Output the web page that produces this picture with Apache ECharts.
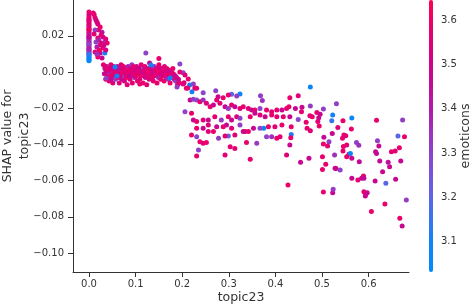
<!DOCTYPE html>
<html><head><meta charset="utf-8">
<script src="https://cdn.jsdelivr.net/npm/echarts@6/dist/echarts.min.js"></script>
<style>html,body{margin:0;padding:0;background:#fff}#c{width:475px;height:307px}</style>
</head><body><div id="c"></div>
<script>
// ---- tick labels & names ----
const xTicks = [0, 0.1, 0.2, 0.3, 0.4, 0.5, 0.6];
const yTicks = [-0.10, -0.08, -0.06, -0.04, -0.02, 0.00, 0.02];
const cTicks = [3.1, 3.2, 3.3, 3.4, 3.5, 3.6];
const xName = 'topic23';
const yName = 'SHAP value for\ntopic23';
const cName = 'emoticons';

// ---- data: [topic23, SHAP value, emoticons] ----
const pointsZeroTopic = [
[0,0.0332,3.58],[0,0.0318,3.55],[0,0.0305,3.52],[0,0.0296,3.6],[0,0.0287,3.48],[0,0.0278,3.57],[0,0.0268,3.55],[0,0.0259,3.5],[0,0.025,3.6],[0,0.0241,3.46],
[0,0.0232,3.56],[0,0.0223,3.43],[0,0.0214,3.54],[0,0.0206,3.4],[0,0.0198,3.58],[0,0.019,3.33],[0,0.0182,3.48],[0,0.0175,3.38],[0,0.0167,3.3],[0,0.016,3.52],
[0,0.0152,3.35],[0,0.0145,3.42],[0,0.0138,3.28],[0,0.013,3.56],[0,0.0123,3.32],[0,0.0116,3.25],[0,0.0109,3.45],[0,0.0102,3.2],[0,0.0095,3.12],[0,0.0088,3.08],
[0,0.0081,3.1],[0,0.0074,3.06],[0,0.0067,3.09],[0,0.0062,3.05],[0,0.0285,3.57],[0,0.0235,3.6],[0,0.0192,3.46],[0,0.0155,3.3],[0,0.0125,3.38],[0,0.0098,3.15]
];
const pointsLowTopic = [
[0.011,0.0318,3.56],[0.013,0.0300,3.58],[0.015,0.0287,3.48],[0.017,0.0276,3.55],[0.019,0.0265,3.52],[0.024,0.0249,3.58],[0.021,0.0232,3.6],[0.028,0.0220,3.42],
[0.013,0.0232,3.32],[0.030,0.0193,3.48],[0.019,0.0188,3.58],[0.034,0.0166,3.3],[0.024,0.0149,3.55],[0.017,0.0138,3.4],[0.030,0.0133,3.58],[0.013,0.0111,3.56],
[0.024,0.0105,3.48],[0.034,0.0105,3.1],[0.019,0.0083,3.58],[0.028,0.0077,3.48],[0.015,0.0166,3.3],[0.032,0.0149,3.48],[0.026,0.0204,3.55],[0.021,0.0177,3.38],
[0.036,0.0182,3.56],[0.039,0.0160,3.58],[0.036,0.0122,3.52],[0.011,0.0210,3.56],[0.009,0.0326,3.58],[0.022,0.0120,3.6],[0.017,0.0100,3.35],[0.026,0.0160,3.55]
];
const pointsPlateau = [
[0.031,0.004,3.56],[0.033,-0.001,3.48],[0.034,0.002,3.38],[0.036,-0.004,3.58],[0.037,0.001,3.52],[0.039,0.003,3.3],[0.040,-0.002,3.56],[0.041,0.000,3.44],[0.043,-0.005,3.58],[0.044,0.002,3.5],
[0.045,-0.001,3.35],[0.047,0.004,3.56],[0.048,-0.003,3.48],[0.049,0.001,3.58],[0.051,-0.006,3.55],[0.052,0.000,3.4],[0.053,0.003,3.56],[0.055,-0.002,3.46],[0.056,0.001,3.58],[0.057,-0.004,3.32],
[0.059,0.002,3.52],[0.060,-0.001,3.56],[0.061,0.003,3.48],[0.062,-0.003,3.58],[0.064,0.000,3.36],[0.065,-0.006,3.56],[0.066,0.002,3.44],[0.068,-0.001,3.58],[0.069,0.004,3.52],[0.070,-0.004,3.48],
[0.072,0.001,3.56],[0.073,-0.002,3.3],[0.074,0.003,3.58],[0.076,-0.005,3.52],[0.077,0.000,3.42],[0.078,0.002,3.56],[0.080,-0.003,3.58],[0.081,0.001,3.48],[0.082,-0.007,3.56],[0.084,0.003,3.38],
[0.085,-0.001,3.58],[0.086,0.000,3.52],[0.088,-0.004,3.56],[0.089,0.002,3.46],[0.090,-0.002,3.58],[0.092,0.004,3.33],[0.093,-0.006,3.56],[0.094,0.001,3.5],[0.096,-0.001,3.58],[0.097,0.002,3.55],
[0.098,-0.003,3.4],[0.099,0.000,3.56],[0.101,-0.002,3.58],[0.102,0.003,3.48],[0.104,-0.005,3.56],[0.105,0.001,3.35],[0.106,-0.001,3.58],[0.108,0.002,3.52],[0.109,-0.004,3.56],[0.110,0.000,3.43],
[0.112,0.004,3.58],[0.113,-0.002,3.48],[0.114,0.001,3.56],[0.116,-0.006,3.58],[0.117,0.002,3.3],[0.118,-0.001,3.55],[0.120,0.003,3.56],[0.121,-0.003,3.46],[0.122,0.000,3.58],[0.124,-0.007,3.56],
[0.125,0.001,3.38],[0.126,-0.002,3.58],[0.128,0.002,3.52],[0.129,-0.004,3.56],[0.130,0.005,3.48],[0.132,0.000,3.58],[0.133,-0.001,3.42],[0.134,0.002,3.56],[0.136,-0.003,3.58],[0.137,0.001,3.48],
[0.138,-0.005,3.56],[0.140,0.003,3.33],[0.141,-0.001,3.58],[0.142,0.000,3.52],[0.144,-0.002,3.56],[0.145,0.002,3.45],[0.146,-0.006,3.58],[0.148,0.001,3.56],[0.149,-0.003,3.36],[0.150,0.004,3.58],
[0.151,-0.001,3.48],[0.153,0.002,3.56],[0.154,-0.004,3.58],[0.155,0.000,3.4],[0.157,0.002,3.52],[0.158,-0.002,3.56],[0.159,0.001,3.3],[0.161,-0.005,3.58],[0.162,0.003,3.56],[0.163,-0.001,3.48],
[0.165,0.000,3.58],[0.166,-0.003,3.44],[0.167,0.002,3.56],[0.169,-0.002,3.58],[0.170,-0.004,3.35],[0.172,0.001,3.56],[0.173,-0.001,3.52],[0.174,-0.006,3.58],[0.176,0.000,3.48],[0.177,-0.002,3.56],
[0.178,-0.003,3.4],[0.180,0.002,3.58],[0.181,-0.001,3.56],[0.183,-0.004,3.48],[0.184,-0.002,3.58],[0.186,-0.005,3.32],[0.188,-0.003,3.56],[0.190,-0.007,3.58],[0.192,-0.004,3.48],[0.194,-0.006,3.56],
[0.035,0.003,3.58],[0.042,0.001,3.56],[0.046,-0.002,3.58],[0.050,0.002,3.52],[0.054,-0.001,3.56],[0.058,0.000,3.58],[0.063,0.001,3.48],[0.067,-0.002,3.56],[0.071,0.000,3.58],[0.075,0.001,3.55],
[0.079,-0.001,3.56],[0.083,0.001,3.58],[0.087,-0.002,3.48],[0.091,0.000,3.56],[0.095,0.003,3.58],[0.100,0.001,3.52],[0.107,0.000,3.56],[0.111,-0.002,3.58],[0.115,0.000,3.48],[0.119,0.001,3.56],
[0.127,0.000,3.58],[0.135,-0.001,3.56],[0.139,0.000,3.48],[0.143,0.001,3.58],[0.147,-0.001,3.56],[0.152,0.000,3.58],[0.156,-0.001,3.52],[0.160,0.001,3.56],[0.164,-0.001,3.58],[0.168,0.000,3.48],
[0.171,-0.001,3.56],[0.175,-0.002,3.58],[0.179,-0.001,3.56],[0.182,-0.003,3.58],[0.185,-0.002,3.48],
[0.122,0.0105,3.3],[0.150,0.0075,3.58],[0.195,0.0044,3.3],[0.056,0.0028,3.08],[0.060,-0.0022,3.1],[0.133,0.0039,3.1],[0.174,-0.0033,3.1],[0.109,-0.0066,3.58],[0.189,-0.0083,3.32],[0.202,-0.0066,3.56],
[0.037,-0.0035,3.32],[0.047,-0.0040,3.48]
];
const pointsMidTopic = [
[0.202,-0.0004,3.3],[0.213,-0.0039,3.58],[0.204,-0.0059,3.56],[0.209,-0.009,3.58],[0.216,-0.0072,3.1],[0.224,-0.0066,3.32],[0.231,-0.009,3.58],[0.245,-0.0114,3.3],[0.221,-0.0109,3.1],[0.272,-0.0103,3.3],
[0.306,-0.0123,3.2],[0.324,-0.0121,3.08],[0.317,-0.0132,3.32],[0.299,-0.0127,3.58],[0.288,-0.0142,3.58],[0.277,-0.0136,3.48],[0.368,-0.0131,3.32],[0.372,-0.0158,3.35],
[0.195,0.000,3.58],[0.206,-0.0017,3.56],[0.212,-0.0088,3.58],[0.227,-0.0088,3.56],
[0.217,-0.0155,3.48],[0.224,-0.0151,3.32],[0.231,-0.0155,3.3],[0.238,-0.0164,3.58],[0.245,-0.0155,3.35],[0.252,-0.0173,3.56],[0.260,-0.0192,3.58],[0.267,-0.0182,3.48],[0.274,-0.0155,3.58],[0.281,-0.0173,3.56],
[0.292,-0.0192,3.48],[0.299,-0.0201,3.32],[0.306,-0.0182,3.58],[0.313,-0.0192,3.48],[0.324,-0.0201,3.56],[0.331,-0.0192,3.58],[0.342,-0.0201,3.56],[0.349,-0.021,3.48],[0.356,-0.021,3.58],[0.367,-0.0201,3.3],
[0.381,-0.021,3.58],[0.392,-0.0219,3.56],[0.403,-0.021,3.58],[0.414,-0.021,3.48],[0.424,-0.0201,3.58],
[0.375,-0.0311,3.08],[0.299,-0.0353,3.2],
[0.206,-0.0219,3.3],[0.220,-0.0228,3.58],[0.224,-0.0265,3.48],[0.231,-0.0274,3.58],[0.245,-0.0265,3.56],[0.256,-0.0265,3.48],[0.270,-0.0247,3.58],[0.284,-0.0265,3.32],[0.299,-0.0247,3.58],[0.306,-0.0265,3.48],
[0.317,-0.0247,3.56],[0.324,-0.0256,3.3],[0.346,-0.0247,3.58],[0.356,-0.0228,3.48],[0.367,-0.0237,3.56],[0.378,-0.0247,3.48],[0.392,-0.0237,3.58],[0.403,-0.0247,3.56],[0.417,-0.0247,3.58],
[0.231,-0.0311,3.58],[0.245,-0.0311,3.48],[0.256,-0.0293,3.56],[0.274,-0.0302,3.48],[0.288,-0.0302,3.58],[0.295,-0.0293,3.48],[0.306,-0.0311,3.56],[0.324,-0.0293,3.32],[0.335,-0.0329,3.58],[0.353,-0.0311,3.48],
[0.367,-0.0311,3.3],[0.385,-0.0302,3.58],[0.399,-0.0302,3.56],[0.414,-0.0293,3.58],
[0.220,-0.0348,3.58],[0.231,-0.0357,3.3],[0.256,-0.0329,3.56],[0.267,-0.0329,3.58],[0.278,-0.0366,3.32],[0.292,-0.0353,3.58],[0.313,-0.0348,3.56],[0.331,-0.0329,3.48],[0.342,-0.0329,3.58],[0.381,-0.0357,3.3],
[0.392,-0.0357,3.35],[0.403,-0.0366,3.58],[0.410,-0.0357,3.56],
[0.238,-0.0385,3.58],[0.245,-0.0394,3.56],[0.252,-0.0390,3.58],[0.235,-0.0431,3.3],[0.303,-0.0413,3.58],[0.313,-0.0422,3.56],[0.338,-0.0390,3.58],[0.360,-0.0394,3.32],
[0.231,-0.0464,3.58],[0.292,-0.0458,3.56],[0.346,-0.0482,3.58],[0.424,-0.0458,3.56],[0.427,-0.0624,3.58]
];
const pointsHighTopic = [
[0.475,-0.0083,3.08],[0.431,-0.0142,3.58],[0.449,-0.0131,3.56],[0.429,-0.0192,3.58],[0.443,-0.0201,3.48],[0.457,-0.0195,3.48],[0.456,-0.0219,3.58],[0.475,-0.0188,3.32],[0.489,-0.0223,3.58],[0.503,-0.0204,3.32],
[0.496,-0.0234,3.48],[0.474,-0.0241,3.56],[0.479,-0.0247,3.58],[0.493,-0.0252,3.48],[0.431,-0.0247,3.48],[0.449,-0.0262,3.3],[0.466,-0.0278,3.58],[0.491,-0.0274,3.56],[0.494,-0.0298,3.58],[0.468,-0.0311,3.58],
[0.475,-0.0324,3.56],[0.434,-0.0302,3.58],[0.434,-0.0345,3.12],[0.433,-0.0363,3.58],[0.431,-0.0403,3.48],[0.531,-0.0175,3.32],[0.523,-0.0238,3.1],[0.521,-0.0269,3.15],[0.545,-0.0269,3.58],[0.534,-0.0306,3.56],
[0.564,-0.0254,3.08],[0.563,-0.0315,3.58],[0.522,-0.0339,3.48],[0.504,-0.0361,3.45],[0.515,-0.0385,3.32],[0.503,-0.0398,3.58],[0.512,-0.0409,3.56],[0.547,-0.0348,3.58],[0.551,-0.0352,3.56],[0.544,-0.0366,3.58],
[0.553,-0.0403,3.56],[0.546,-0.0412,3.58],[0.545,-0.0437,3.58],[0.558,-0.0455,3.56],[0.574,-0.0390,3.32],[0.579,-0.0405,3.35],[0.561,-0.0450,3.08],[0.553,-0.0468,3.58],[0.564,-0.0477,3.48],[0.527,-0.0459,3.35],
[0.501,-0.0468,3.58],[0.472,-0.0477,3.48],[0.454,-0.0499,3.48],[0.508,-0.0510,3.58],[0.530,-0.0533,3.56],[0.580,-0.0496,3.48],[0.617,-0.0267,3.58],[0.619,-0.0380,3.32],[0.622,-0.0409,3.48],[0.615,-0.0440,3.48],
[0.617,-0.0450,3.46],[0.624,-0.0492,3.48],[0.642,-0.0499,3.45],[0.645,-0.0523,3.48],[0.649,-0.0440,3.58],[0.657,-0.0437,3.56],[0.666,-0.0418,3.58],[0.669,-0.0492,3.48],[0.663,-0.0354,3.2],[0.677,-0.0357,3.58],
[0.673,-0.0265,3.32]
];
const pointsTail = [
[0.501,-0.0538,3.58],[0.528,-0.0532,3.48],[0.539,-0.0541,3.3],[0.564,-0.0587,3.48],[0.577,-0.0597,3.58],[0.585,-0.0587,3.48],[0.589,-0.0575,3.58],[0.590,-0.0587,3.46],[0.614,-0.0602,3.48],[0.630,-0.0551,3.48],
[0.637,-0.0615,3.2],[0.658,-0.0593,3.48],[0.681,-0.0707,3.32],[0.503,-0.0663,3.58],[0.523,-0.0667,3.48],[0.524,-0.0648,3.32],[0.590,-0.0661,3.58],[0.594,-0.0674,3.58],[0.597,-0.0667,3.48],[0.593,-0.0685,3.48],
[0.606,-0.0771,3.58],[0.635,-0.0729,3.58],[0.667,-0.0808,3.58],[0.672,-0.0851,3.48]
];

const allPoints = [].concat(pointsZeroTopic, pointsLowTopic, pointsPlateau, pointsMidTopic, pointsHighTopic, pointsTail);

const FONT = 'DejaVu Sans';
const TXT = '#333333';
const fmtY = v => (v < -1e-9 ? '\u2212' : '') + Math.abs(v).toFixed(2);
const fmtX = v => v.toFixed(1);
const fmtC = v => v.toFixed(1);

const chart = echarts.init(document.getElementById('c'), null, {renderer: 'canvas'});
chart.setOption({
  animation: false,
  backgroundColor: '#ffffff',
  grid: [
    {left: 73, top: 0, width: 336, height: 272, containLabel: false, outerBoundsMode: 'none'},
    {left: 429, top: 0, width: 4, height: 272, containLabel: false, outerBoundsMode: 'none'}
  ],
  xAxis: [
    {
      gridIndex: 0, type: 'value', min: -0.0343, max: 0.6867,
      name: xName, nameLocation: 'middle', nameGap: 19, nameMoveOverlap: false,
      nameTextStyle: {fontFamily: FONT, fontSize: 12.5, color: TXT},
      axisLine: {show: true, onZero: false, lineStyle: {color: TXT, width: 1}},
      axisTick: {show: true, length: 5, lineStyle: {color: TXT}, customValues: xTicks},
      axisLabel: {show: true, margin: 7, fontFamily: FONT, fontSize: 10, color: TXT, formatter: fmtX, customValues: xTicks},
      splitLine: {show: false}
    },
    {gridIndex: 1, type: 'value', min: 0, max: 1, show: false}
  ],
  yAxis: [
    {
      gridIndex: 0, type: 'value', min: -0.1105, max: 0.0398,
      name: yName, nameLocation: 'middle', nameGap: 40, nameRotate: 90, nameMoveOverlap: false,
      nameTextStyle: {fontFamily: FONT, fontSize: 12.5, color: TXT, lineHeight: 17, align: 'center'},
      axisLine: {show: true, onZero: false, lineStyle: {color: TXT, width: 1}},
      axisTick: {show: true, length: 5, lineStyle: {color: TXT}, customValues: yTicks},
      axisLabel: {show: true, margin: 9, fontFamily: FONT, fontSize: 10, color: TXT, formatter: fmtY, customValues: yTicks},
      splitLine: {show: false}
    },
    {
      gridIndex: 1, type: 'value', position: 'right', min: 3.032, max: 3.645,
      name: cName, nameLocation: 'middle', nameGap: 26, nameRotate: 90, nameMoveOverlap: false,
      nameTextStyle: {fontFamily: FONT, fontSize: 12.5, color: TXT},
      axisLine: {show: false},
      axisTick: {show: true, length: 4, lineStyle: {color: TXT}, customValues: cTicks},
      axisLabel: {show: true, margin: 8, fontFamily: FONT, fontSize: 10, color: TXT, formatter: fmtC, customValues: cTicks},
      splitLine: {show: false}
    }
  ],
  visualMap: {
    type: 'continuous', seriesIndex: 0, dimension: 2,
    min: 3.032, max: 3.645, calculable: false, hoverLink: false,
    show: true, left: 429, top: 0, itemWidth: 4, itemHeight: 272, padding: 0,
    text: null, showLabel: false,
    inRange: {color: ['#008bfb','#0d84f6','#3c73ee','#6560e2','#844bd0','#9b35bf','#b01ba9','#c20a97','#d60082','#ea006c','#ff0052']}
  },
  series: [
    {
      type: 'scatter', xAxisIndex: 0, yAxisIndex: 0,
      symbol: 'circle', symbolSize: 5,
      itemStyle: {opacity: 1},
      data: allPoints, silent: true
    },
    {type: 'scatter', xAxisIndex: 1, yAxisIndex: 1, data: [], silent: true}
  ]
});
</script>
</body></html>
